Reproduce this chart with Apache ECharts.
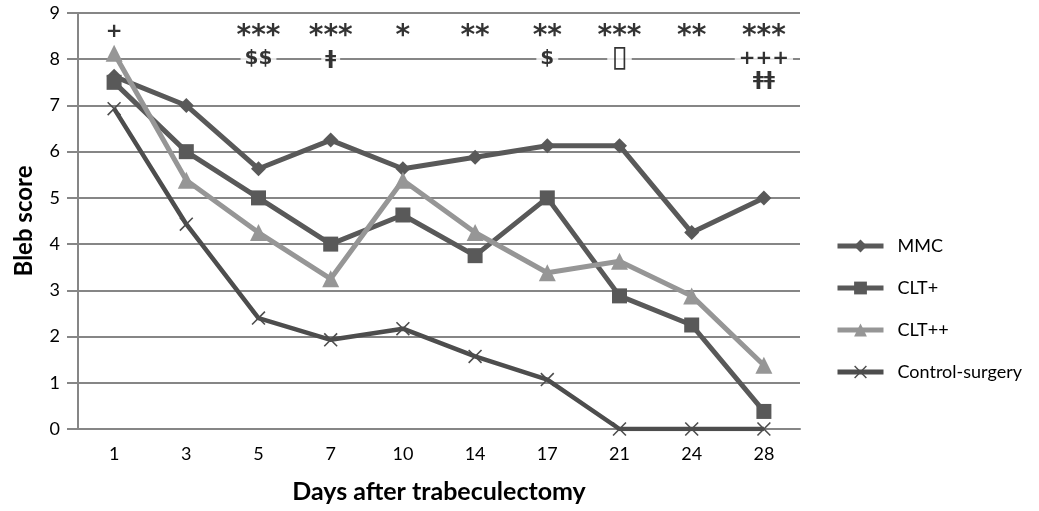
<!DOCTYPE html>
<html>
<head>
<meta charset="utf-8">
<script src="https://cdn.jsdelivr.net/npm/echarts@6/dist/echarts.min.js"></script>
<style>
    html, body { margin: 0; padding: 0; background: #fff; }
    #chart { width: 1039px; height: 511px; }
</style>
</head>
<body>
<div id="chart"></div>
<script>
// days after surgery
var days = ['1', '3', '5', '7', '10', '14', '17', '21', '24', '28'];

var mmc = [7.63, 7.0, 5.63, 6.25, 5.63, 5.88, 6.13, 6.13, 4.25, 5.0];
var cltPlus = [7.5, 6.0, 5.0, 4.0, 4.63, 3.75, 5.0, 2.88, 2.25, 0.38];
var cltPlusPlus = [8.13, 5.38, 4.25, 3.25, 5.38, 4.25, 3.38, 3.63, 2.88, 1.38];
var control = [6.93, 4.43, 2.4, 1.93, 2.17, 1.57, 1.07, 0, 0, 0];

// significance marks, one row per line of text
var sigRow1 = ['+', '', '***', '***', '*', '**', '**', '***', '**', '***'];
var sigRow2 = ['', '', '$$', 'ǂ', '', '', '$', '▯', '', '+++'];
var sigRow3 = ['', '', '', '', '', '', '', '', '', 'ǂǂ'];
var sigLevels = [8.48, 8.02, 7.55];

var FONT = 'Lato, "Noto Sans", sans-serif';
var xShape = 'path://M0,0.8L0.8,0L10,9.2L9.2,10ZM9.2,0L10,0.8L0.8,10L0,9.2Z';

function sigData(row, level) {
    var out = [];
    for (var i = 0; i < row.length; i++) {
        if (!row[i]) continue;
        var item = { value: [days[i], level], name: row[i] };
        // asterisks and the box glyph are drawn small by DejaVu, so bump them
        if (row[i].indexOf('*') >= 0) {
            item.label = { fontSize: 28 };
        } else if (row[i] === '▯') {
            item.label = { fontSize: 30 };
        } else if (row[i] === '+') {
            item.label = { offset: [0, -5] };
        }
        out.push(item);
    }
    return out;
}

function sigSeries(row, level, withBg) {
    return {
        type: 'scatter',
        data: sigData(row, level),
        symbolSize: 0,
        silent: true,
        z: 5,
        label: {
            show: true,
            position: 'inside',
            formatter: function (p) { return p.name; },
            color: '#000',
            fontSize: 20,
            fontWeight: 'bold',
            fontFamily: '"DejaVu Sans", sans-serif',
            backgroundColor: withBg ? '#fff' : 'transparent',
            padding: [0, 4]
        }
    };
}

function lineSeries(name, data, color, symbol, size, width) {
    return {
        name: name,
        type: 'line',
        data: data,
        symbol: symbol,
        symbolSize: size,
        lineStyle: { color: color, width: width },
        itemStyle: { color: color },
        z: 3
    };
}

var chart = echarts.init(document.getElementById('chart'));
chart.setOption({
    animation: false,
    textStyle: { fontFamily: FONT },
    grid: { left: 78, right: 239, top: 13, bottom: 82 },
    legend: {
        orient: 'vertical',
        left: 830,
        top: 232,
        itemWidth: 46,
        itemHeight: 16,
        itemGap: 24,
        lineStyle: { width: 5 },
        data: ['MMC', 'CLT+', 'CLT++', 'Control-surgery'],
        textStyle: { fontSize: 18, color: '#000', padding: [0, 0, 0, 9], fontFamily: FONT }
    },
    xAxis: {
        type: 'category',
        data: days,
        name: 'Days after trabeculectomy',
        nameLocation: 'middle',
        nameGap: 50,
        nameTextStyle: { fontSize: 25, fontWeight: 'bold', color: '#000' },
        axisLine: { lineStyle: { color: '#868686', width: 2 } },
        axisTick: { alignWithLabel: true, length: 7, lineStyle: { color: '#868686', width: 2 } },
        axisLabel: { fontSize: 18, color: '#000', margin: 16 }
    },
    yAxis: {
        type: 'value',
        min: 0,
        max: 9,
        interval: 1,
        name: 'Bleb score',
        nameLocation: 'middle',
        nameGap: 42,
        nameTextStyle: { fontSize: 24, fontWeight: 'bold', color: '#000' },
        axisLine: { show: true, lineStyle: { color: '#868686', width: 2 } },
        axisTick: { show: true, length: 11, lineStyle: { color: '#868686', width: 2 } },
        axisLabel: { fontSize: 18, color: '#000', margin: 18 },
        splitLine: { lineStyle: { color: '#868686', width: 2 } }
    },
    series: [
        lineSeries('MMC', mmc, '#595959', 'diamond', 15, 5),
        lineSeries('CLT+', cltPlus, '#595959', 'rect', 15, 5),
        lineSeries('CLT++', cltPlusPlus, '#969696', 'triangle', 17, 5),
        lineSeries('Control-surgery', control, '#4d4d4d', xShape, 14, 4.5),
        sigSeries(sigRow1, sigLevels[0], false),
        sigSeries(sigRow2, sigLevels[1], true),
        sigSeries(sigRow3, sigLevels[2], false)
    ]
});
</script>
</body>
</html>
